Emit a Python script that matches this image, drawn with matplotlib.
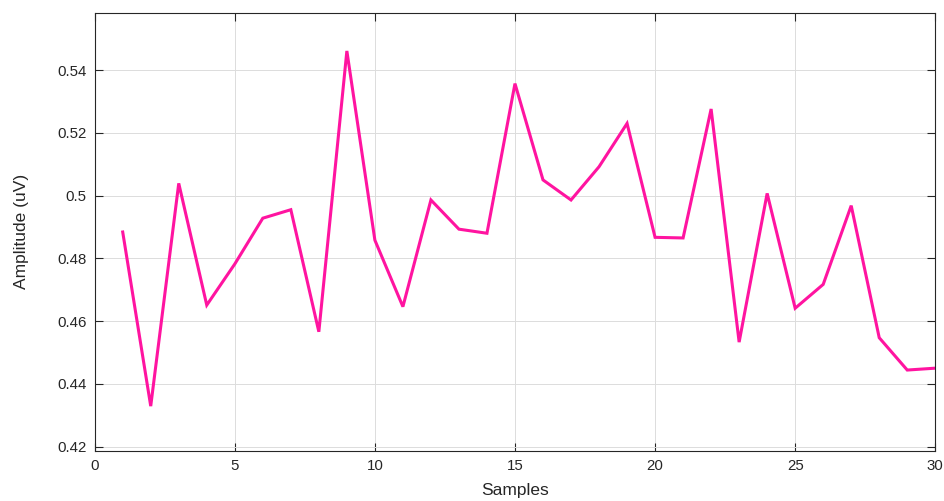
import matplotlib
matplotlib.use("Agg")
import matplotlib.pyplot as plt
from matplotlib.ticker import FuncFormatter

plt.rcParams['font.family'] = ['Liberation Sans', 'DejaVu Sans']

samples = list(range(1, 31))
amplitude = [0.4884, 0.4329, 0.5039, 0.4651, 0.4782, 0.4928, 0.4955, 0.4566, 0.5461, 0.4858,
             0.4646, 0.4986, 0.4893, 0.4880, 0.5357, 0.5050, 0.4986, 0.5092, 0.5230, 0.4867,
             0.4865, 0.5276, 0.4533, 0.5007, 0.4641, 0.4717, 0.4968, 0.4547, 0.4444, 0.4450]
x_ticks = [0, 5, 10, 15, 20, 25, 30]
y_ticks = [0.42, 0.44, 0.46, 0.48, 0.50, 0.52, 0.54]

fig = plt.figure(figsize=(9.45, 5.01), dpi=100)
ax = fig.add_axes([0.1002, 0.0998, 0.8895, 0.8749])

ax.plot(samples, amplitude, color='#ff14a0', linewidth=2.2, solid_joinstyle='miter')

ax.set_xlim(0, 30)
ax.set_ylim(0.4186, 0.5583)
ax.set_xticks(x_ticks)
ax.set_yticks(y_ticks)
ax.yaxis.set_major_formatter(FuncFormatter(lambda v, p: f"{v:g}"))

ax.grid(True, color='#dcdcdc', linewidth=0.7)
ax.set_axisbelow(True)
for s in ax.spines.values():
    s.set_color('#262626')
    s.set_linewidth(0.8)
ax.tick_params(direction='in', length=6, width=0.8, color='#262626',
               top=True, right=True, labelsize=10.8, labelcolor='#262626', pad=6)

ax.set_xlabel('Samples', fontsize=12.5, color='#262626', labelpad=7)
ax.set_ylabel('Amplitude (uV)', fontsize=12.5, color='#262626', labelpad=20)

fig.savefig('out.png', dpi=100)
